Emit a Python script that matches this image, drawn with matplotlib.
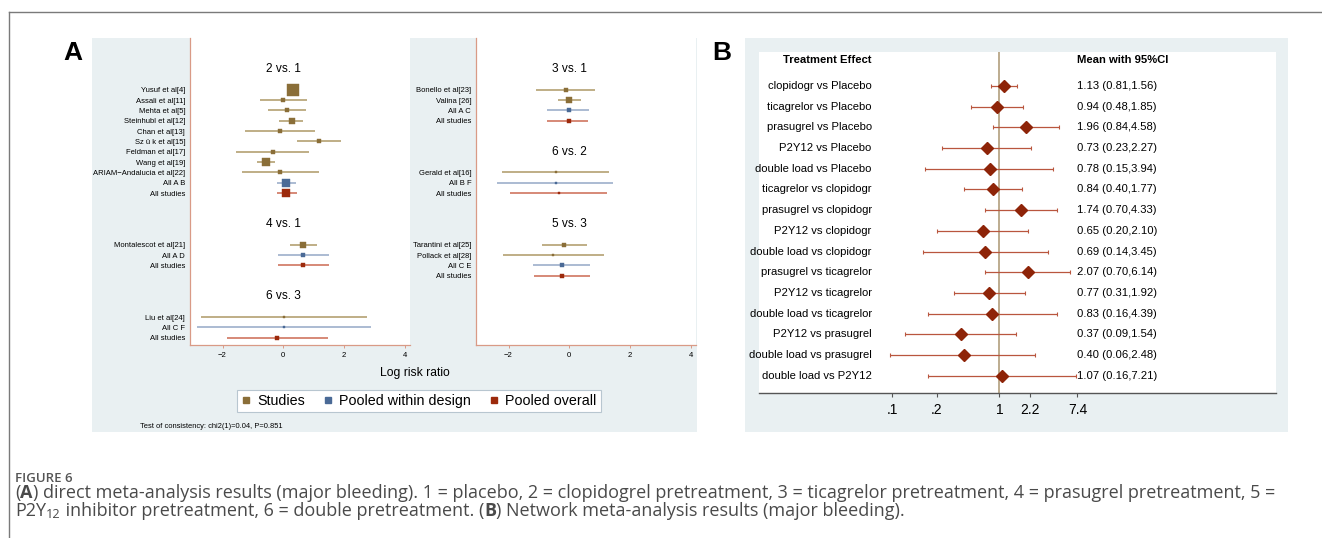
# -*- coding: utf-8 -*-
"""
Figure 6: direct (A) and network (B) meta-analysis of major bleeding
"""
import numpy as np
import matplotlib
matplotlib.use('Agg')
import matplotlib.pyplot as plt
import matplotlib.transforms as mtransforms
from matplotlib.lines import Line2D
from matplotlib.patches import Rectangle

plt.rcParams['font.family'] = ['Liberation Sans', 'DejaVu Sans']

# === data: panel A (log risk ratio, CI, square weight) ===
g21_title = '2 vs. 1'
g21_lab = ['Yusuf et al[4]', 'Assali et al[11]', 'Mehta et al[5]', 'Steinhubl et al[12]',
           'Chan et al[13]', 'Sz ü k et al[15]', 'Feldman et al[17]', 'Wang et al[19]',
           'ARIAM−Andalucia et al[22]', 'All A B', 'All studies']
g21_est = [0.31, 0.00, 0.12, 0.28, -0.12, 1.18, -0.35, -0.57, -0.10, 0.10, 0.10]
g21_lo = [0.15, -0.77, -0.49, -0.13, -1.27, 0.46, -1.57, -0.86, -1.36, -0.22, -0.21]
g21_hi = [0.47, 0.79, 0.74, 0.66, 1.03, 1.91, 0.85, -0.27, 1.18, 0.43, 0.44]
g21_wt = [12, 4, 5, 6, 3.3, 5, 3.3, 8.3, 3.3, 7.3, 9]

g41_title = '4 vs. 1'
g41_lab = ['Montalescot et al[21]', 'All A D', 'All studies']
g41_est = [0.66, 0.66, 0.66]
g41_lo = [0.22, -0.19, -0.19]
g41_hi = [1.10, 1.51, 1.51]
g41_wt = [6, 4, 4]

g63_title = '6 vs. 3'
g63_lab = ['Liu et al[24]', 'All C F', 'All studies']
g63_est = [0.02, 0.02, -0.20]
g63_lo = [-2.71, -2.83, -1.86]
g63_hi = [2.74, 2.88, 1.46]
g63_wt = [2.5, 2.5, 3.3]

g31_title = '3 vs. 1'
g31_lab = ['Bonello et al[23]', 'Valina [26]', 'All A C', 'All studies']
g31_est = [-0.11, 0.00, -0.02, -0.02]
g31_lo = [-1.10, -0.38, -0.73, -0.73]
g31_hi = [0.86, 0.38, 0.65, 0.62]
g31_wt = [3.3, 6.5, 5, 5]

g62_title = '6 vs. 2'
g62_lab = ['Gerald et al[16]', 'All B F', 'All studies']
g62_est = [-0.45, -0.45, -0.34]
g62_lo = [-2.21, -2.38, -1.95]
g62_hi = [1.31, 1.45, 1.24]
g62_wt = [2.5, 2.5, 3]

g53_title = '5 vs. 3'
g53_lab = ['Tarantini et al[25]', 'Pollack et al[28]', 'All C E', 'All studies']
g53_est = [-0.17, -0.53, -0.25, -0.24]
g53_lo = [-0.90, -2.19, -1.18, -1.16]
g53_hi = [0.59, 1.13, 0.67, 0.67]
g53_wt = [4.5, 3, 4, 4.5]

a_xticks = [-2, 0, 2, 4]

# === data: panel B (network RR, 95% CI) ===
b_lab = ['clopidogr vs Placebo', 'ticagrelor vs Placebo', 'prasugrel vs Placebo',
         'P2Y12 vs Placebo', 'double load vs Placebo', 'ticagrelor vs clopidogr',
         'prasugrel vs clopidogr', 'P2Y12 vs clopidogr', 'double load vs clopidogr',
         'prasugrel vs ticagrelor', 'P2Y12 vs ticagrelor', 'double load vs ticagrelor',
         'P2Y12 vs prasugrel', 'double load vs prasugrel', 'double load vs P2Y12']
b_mean = [1.13, 0.94, 1.96, 0.73, 0.78, 0.84, 1.74, 0.65, 0.69, 2.07, 0.77, 0.83, 0.37, 0.40, 1.07]
b_lo = [0.81, 0.48, 0.84, 0.23, 0.15, 0.40, 0.70, 0.20, 0.14, 0.70, 0.31, 0.16, 0.09, 0.06, 0.16]
b_hi = [1.56, 1.85, 4.58, 2.27, 3.94, 1.77, 4.33, 2.10, 3.45, 6.14, 1.92, 4.39, 1.54, 2.48, 7.21]
b_ticks = [0.064, 0.2, 1, 2.2, 7.4]
b_ticklab = ['.1', '.2', '1', '2.2', '7.4']

# === styles ===
BG = '#e9f0f2'
SAL = '#d99a86'
COL = {'study': ('#8a6e38', '#ae9866'),
       'design': ('#4a6a96', '#95a8c6'),
       'overall': ('#9c2a0c', '#cc6a52')}

W, H = 1322, 538
fig = plt.figure(figsize=(W / 100, H / 100), dpi=100)
fig.patch.set_facecolor('white')


def fbox(x0, y0, x1, y1):
    return [x0 / W, 1 - y1 / H, (x1 - x0) / W, (y1 - y0) / H]


def rect(x0, y0, x1, y1, color):
    b = fbox(x0, y0, x1, y1)
    fig.patches.append(Rectangle((b[0], b[1]), b[2], b[3], transform=fig.transFigure,
                                 facecolor=color, edgecolor='none', zorder=-5))


# outer frame
fig.add_artist(Line2D([9 / W, 1], [1 - 12 / H, 1 - 12 / H], color='#7a7a7a', lw=1.0))
fig.add_artist(Line2D([9 / W, 9 / W], [0, 1 - 12 / H], color='#7a7a7a', lw=1.0))

rect(92, 38, 697, 432, BG)
rect(745, 38, 1288, 432, BG)

fig.text(73 / W, 1 - 53 / H, 'A', fontsize=19, weight='bold', ha='center', va='center')
fig.text(722 / W, 1 - 53 / H, 'B', fontsize=19, weight='bold', ha='center', va='center')


# === panel A ===
def draw_col(ax, groups):
    y = -2
    yt, yl = [], []
    for title, lab, est, lo, hi, wt in groups:
        ax.text(0, y, title, ha='center', va='center', fontsize=8.6)
        y += 2
        for i in range(len(lab)):
            if lab[i] == 'All studies':
                kind = 'overall'
            elif lab[i].startswith('All '):
                kind = 'design'
            else:
                kind = 'study'
            cm, cl = COL[kind]
            ax.plot([lo[i], hi[i]], [y, y], color=cl, lw=1.1, solid_capstyle='butt', zorder=2)
            ax.plot(est[i], y, marker='s', ms=wt[i] / 1.389, color=cm, mec=cm, mew=0.3, zorder=3)
            yt.append(y); yl.append(lab[i])
            y += 1
        y += 2
    ax.set_yticks(yt)
    ax.set_yticklabels(yl, fontsize=5.5)
    ax.set_ylim(24.7, -5.0)
    ax.set_xlim(-3.07, 4.17)
    ax.set_xticks(a_xticks)
    ax.set_xticklabels(['−2', '0', '2', '4'])
    ax.tick_params(axis='y', length=0, pad=3.5)
    ax.tick_params(axis='x', length=2.2, color=SAL, labelsize=5.6, pad=2.5, width=0.7)
    for s in ('top', 'right'):
        ax.spines[s].set_visible(False)
    for s in ('left', 'bottom'):
        ax.spines[s].set_color(SAL)
        ax.spines[s].set_linewidth(0.9)
    ax.set_facecolor('white')


axL = fig.add_axes(fbox(190, 38, 410, 345))
draw_col(axL, [(g21_title, g21_lab, g21_est, g21_lo, g21_hi, g21_wt),
               (g41_title, g41_lab, g41_est, g41_lo, g41_hi, g41_wt),
               (g63_title, g63_lab, g63_est, g63_lo, g63_hi, g63_wt)])
axR = fig.add_axes(fbox(476, 38, 696, 345))
draw_col(axR, [(g31_title, g31_lab, g31_est, g31_lo, g31_hi, g31_wt),
               (g62_title, g62_lab, g62_est, g62_lo, g62_hi, g62_wt),
               (g53_title, g53_lab, g53_est, g53_lo, g53_hi, g53_wt)])

fig.text(415 / W, 1 - 373 / H, 'Log risk ratio', fontsize=8.7, ha='center', va='center')
handles = [Line2D([], [], ls='none', marker='s', ms=4.5, color=COL[k][0])
           for k in ('study', 'design', 'overall')]
leg = fig.legend(handles, ['Studies', 'Pooled within design', 'Pooled overall'],
                 loc='center', bbox_to_anchor=(419 / W, 1 - 401 / H), ncol=3, fontsize=10.3,
                 frameon=True, fancybox=False, edgecolor='#b8c6d0', framealpha=1,
                 handlelength=0.6, handletextpad=0.5, columnspacing=1.3, borderpad=0.3)
leg.get_frame().set_linewidth(0.8)
fig.text(140 / W, 1 - 427 / H, 'Test of consistency: chi2(1)=0.04, P=0.851',
         fontsize=5.4, ha='left', va='center')

# === panel B ===
axB = fig.add_axes(fbox(759, 52, 1276, 393))
axB.set_facecolor('white')
axB.set_xscale('log')
axB.set_xlim(np.exp(-6.16), np.exp(7.09))
axB.set_ylim(14.83, -1.64)
m = np.array(b_mean); lo = np.array(b_lo); hi = np.array(b_hi)
yy = np.arange(len(b_lab))
axB.axvline(1, color='#ab9672', lw=1.1, zorder=1)
axB.errorbar(m, yy, xerr=[m - lo, hi - m], fmt='D', ms=5.8, color='#8e2408',
             ecolor='#b9563e', elinewidth=0.9, capsize=1.6, capthick=0.8, zorder=3)
tr = mtransforms.blended_transform_factory(axB.transAxes, axB.transData)
for i, lab in enumerate(b_lab):
    axB.text(0.218, i, lab, ha='right', va='center', fontsize=8.1, transform=tr)
    axB.text(0.615, i, f'{b_mean[i]:.2f} ({b_lo[i]:.2f},{b_hi[i]:.2f})',
             ha='left', va='center', fontsize=8.1, transform=tr)
axB.text(0.218, -1.26, 'Treatment Effect', ha='right', va='center', fontsize=8.1,
         weight='bold', transform=tr)
axB.text(0.615, -1.26, 'Mean with 95%CI', ha='left', va='center', fontsize=8.1,
         weight='bold', transform=tr)
axB.set_xticks(b_ticks)
axB.set_xticklabels(b_ticklab)
axB.xaxis.set_minor_locator(matplotlib.ticker.NullLocator())
axB.set_yticks([])
axB.tick_params(axis='x', length=3, color='#555555', labelsize=10, pad=4)
for s in ('top', 'right', 'left'):
    axB.spines[s].set_visible(False)
axB.spines['bottom'].set_color('#555555')
axB.spines['bottom'].set_linewidth(1.0)

# === caption ===
CAP = '#4a4a4a'
CAPFONT = ['Open Sans', 'DejaVu Sans']
CFS = 13.0
fig.text(15 / W, 1 - 478 / H, 'FIGURE 6', fontsize=9.5, color='#555555', family=CAPFONT,
         weight='semibold', va='center')

renderer = fig.canvas.get_renderer()


def runs(x0, y0, parts):
    # parts: (text, weight, size factor, vertical shift px)
    x = x0
    for txt, wgt, k, dy in parts:
        t = fig.text(x / W, 1 - (y0 + dy) / H, txt, fontsize=CFS * k, color=CAP,
                     family=CAPFONT, weight=wgt, va='center', ha='left')
        x += t.get_window_extent(renderer).width


line1 = [('(', 'normal', 1, 0), ('A', 'bold', 1, 0),
         (') direct meta-analysis results (major bleeding). 1 = placebo, 2 = clopidogrel '
          'pretreatment, 3 = ticagrelor pretreatment, 4 = prasugrel pretreatment, 5 =',
          'normal', 1, 0)]
line2 = [('P2Y', 'normal', 1, 0), ('12', 'normal', 0.7, 4),
         (' inhibitor pretreatment, 6 = double pretreatment. (', 'normal', 1, 0),
         ('B', 'bold', 1, 0), (') Network meta-analysis results (major bleeding).', 'normal', 1, 0)]
runs(15, 493, line1)
runs(15, 511, line2)

plt.savefig('out.png', dpi=100)
plt.close()
